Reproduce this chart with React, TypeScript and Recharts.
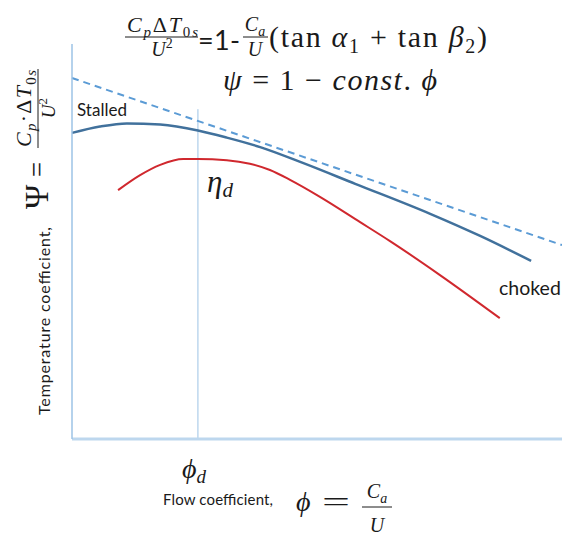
import { LineChart, Line, XAxis, YAxis, ReferenceLine } from 'recharts'

// flow coefficient (x) and temperature coefficient (y), arbitrary 0-100 units
const actualPhi = [0, 5.7, 11.2, 18.0, 25.7, 31.6, 38.4, 47.1, 57.8, 73.1, 83.3, 93.7]
const actualPsi = [77.5, 79.1, 79.9, 79.6, 78.1, 76.3, 73.9, 69.9, 64.6, 57.0, 51.4, 45.1]

const effPhi = [9.4, 13.9, 18.0, 22.7, 25.7, 31.6, 36.3, 40.4, 44.5, 50.6, 58.8, 64.9, 75.1, 87.3]
const effEta = [63.0, 66.8, 69.4, 70.9, 70.9, 70.6, 69.7, 68.1, 65.6, 61.3, 54.9, 50.1, 41.5, 30.6]

const idealPhi = [0, 100]
const idealPsi = [91.4, 49.1]

const phiDesign = 25.7
const designLineTop = 83.5

const actualData = actualPhi.map((x, i) => ({ x, y: actualPsi[i] }))
const effData = effPhi.map((x, i) => ({ x, y: effEta[i] }))
const idealData = idealPhi.map((x, i) => ({ x, y: idealPsi[i] }))

const serif = "'Liberation Serif', 'DejaVu Serif', serif"
const sans = "Lato, 'Open Sans', sans-serif"
const ink = '#1a1a1a'

function Overlay() {
  return (
    <svg width={562} height={536} style={{ position: 'absolute', left: 0, top: 0, pointerEvents: 'none' }}>
      {/* title line 1 */}
      <text x={127} y={32} fontFamily={serif} fontSize={22} fill={ink} textLength={71}>
        <tspan fontStyle="italic">C</tspan>
        <tspan fontStyle="italic" fontSize={15} dy={5}>p</tspan>
        <tspan dy={-5}>Δ</tspan>
        <tspan fontStyle="italic">T</tspan>
        <tspan fontSize={15} dy={5}>0</tspan>
        <tspan fontStyle="italic" fontSize={15}>s</tspan>
      </text>
      <line x1={125} x2={198} y1={37} y2={37} stroke={ink} strokeWidth={1} />
      <text x={162} y={56} textAnchor="middle" fontFamily={serif} fontSize={20} fill={ink}>
        <tspan fontStyle="italic">U</tspan>
        <tspan fontSize={14} dy={-8}>2</tspan>
      </text>
      <text x={198} y={50} fontFamily={sans} fontSize={27} fill={ink} textLength={42}>=1-</text>
      <text x={255} y={31} textAnchor="middle" fontFamily={serif} fontSize={20} fill={ink}>
        <tspan fontStyle="italic">C</tspan>
        <tspan fontStyle="italic" fontSize={14} dy={5}>a</tspan>
      </text>
      <line x1={243} x2={268} y1={37} y2={37} stroke={ink} strokeWidth={1} />
      <text x={255} y={56} textAnchor="middle" fontFamily={serif} fontStyle="italic" fontSize={20} fill={ink}>U</text>
      <text x={269} y={47} fontFamily={serif} fontSize={30} fill={ink} textLength={218}>
        <tspan>(tan </tspan>
        <tspan fontStyle="italic">α</tspan>
        <tspan fontSize={20} dy={6}>1</tspan>
        <tspan dy={-6}> + tan </tspan>
        <tspan fontStyle="italic">β</tspan>
        <tspan fontSize={20} dy={6}>2</tspan>
        <tspan dy={-6}>)</tspan>
      </text>
      {/* title line 2 */}
      <text x={223} y={90} fontFamily={serif} fontSize={30} fill={ink} textLength={214}>
        <tspan fontStyle="italic">ψ</tspan>
        <tspan> = 1 − </tspan>
        <tspan fontStyle="italic">const</tspan>
        <tspan>. </tspan>
        <tspan fontStyle="italic">ϕ</tspan>
      </text>

      {/* y axis label */}
      <g transform="translate(50, 415) rotate(-90)">
        <text x={0} y={0} fontFamily={sans} fontSize={16} fill={ink} textLength={188}>Temperature coefficient,</text>
        <text x={206} y={-2} fontFamily={serif} fontSize={33} fill={ink}>Ψ</text>
        <text x={238} y={-3} fontFamily={serif} fontSize={30} fill={ink} textLength={15} lengthAdjust="spacingAndGlyphs">=</text>
        <text x={268} y={-19} fontFamily={serif} fontSize={22} fill={ink} textLength={77}>
          <tspan fontStyle="italic">C</tspan>
          <tspan fontStyle="italic" fontSize={15} dy={5}>p</tspan>
          <tspan dy={-5}>·Δ</tspan>
          <tspan fontStyle="italic">T</tspan>
          <tspan fontSize={15} dy={5}>0</tspan>
          <tspan fontStyle="italic" fontSize={15}>s</tspan>
        </text>
        <line x1={267} x2={346} y1={-12} y2={-12} stroke={ink} strokeWidth={1} />
        <text x={307} y={5} textAnchor="middle" fontFamily={serif} fontSize={19} fill={ink}>
          <tspan fontStyle="italic">U</tspan>
          <tspan fontSize={13} dy={-8}>2</tspan>
        </text>
      </g>

      {/* annotations */}
      <text x={77} y={116} fontFamily={sans} fontSize={17} fill={ink}>Stalled</text>
      <text x={499} y={295} fontFamily={sans} fontSize={19.5} fill={ink}>choked</text>
      <text x={207} y={192} fontFamily={serif} fontSize={31} fill={ink}>
        <tspan fontStyle="italic">η</tspan>
        <tspan fontStyle="italic" fontSize={21} dy={5}>d</tspan>
      </text>

      {/* x axis labels */}
      <text x={182} y={478} fontFamily={serif} fontSize={28} fill={ink}>
        <tspan fontStyle="italic">ϕ</tspan>
        <tspan fontStyle="italic" fontSize={19} dy={5}>d</tspan>
      </text>
      <text x={163} y={505} fontFamily={sans} fontSize={15} fill={ink} textLength={110}>Flow coefficient,</text>
      <text x={296} y={511} fontFamily={serif} fontStyle="italic" fontSize={28} fill={ink}>ϕ</text>
      <text x={322} y={511} fontFamily={serif} fontSize={28} fill={ink} textLength={28} lengthAdjust="spacingAndGlyphs">=</text>
      <text x={377} y={498} textAnchor="middle" fontFamily={serif} fontSize={20} fill={ink}>
        <tspan fontStyle="italic">C</tspan>
        <tspan fontStyle="italic" fontSize={14} dy={5}>a</tspan>
      </text>
      <line x1={362} x2={392} y1={507} y2={507} stroke={ink} strokeWidth={1} />
      <text x={377} y={532} textAnchor="middle" fontFamily={serif} fontStyle="italic" fontSize={20} fill={ink}>U</text>
    </svg>
  )
}

export default function App() {
  return (
    <div style={{ position: 'relative', width: 562, height: 536, background: '#fff' }}>
      <style>{'body{margin:0}'}</style>
      <LineChart width={562} height={536} margin={{ top: 44, right: 0, left: 71, bottom: 96 }}>
        <XAxis
          type="number"
          dataKey="x"
          domain={[0, 100]}
          height={1}
          tick={false}
          tickLine={false}
          axisLine={{ stroke: '#bdd7ee', strokeWidth: 3 }}
        />
        <YAxis
          type="number"
          dataKey="y"
          domain={[0, 100]}
          width={1}
          tick={false}
          tickLine={false}
          axisLine={{ stroke: '#9dc3e6', strokeWidth: 1.5 }}
        />
        <ReferenceLine
          segment={[{ x: phiDesign, y: 0 }, { x: phiDesign, y: designLineTop }]}
          stroke="#9dc3e6"
          strokeWidth={1}
        />
        <Line data={idealData} dataKey="y" type="linear" stroke="#5b9bd5" strokeWidth={2} strokeDasharray="7 5" dot={false} isAnimationActive={false} />
        <Line data={actualData} dataKey="y" type="monotone" stroke="#41719c" strokeWidth={2.5} dot={false} isAnimationActive={false} />
        <Line data={effData} dataKey="y" type="monotone" stroke="#d0282e" strokeWidth={2} dot={false} isAnimationActive={false} />
      </LineChart>
      <Overlay />
    </div>
  )
}
